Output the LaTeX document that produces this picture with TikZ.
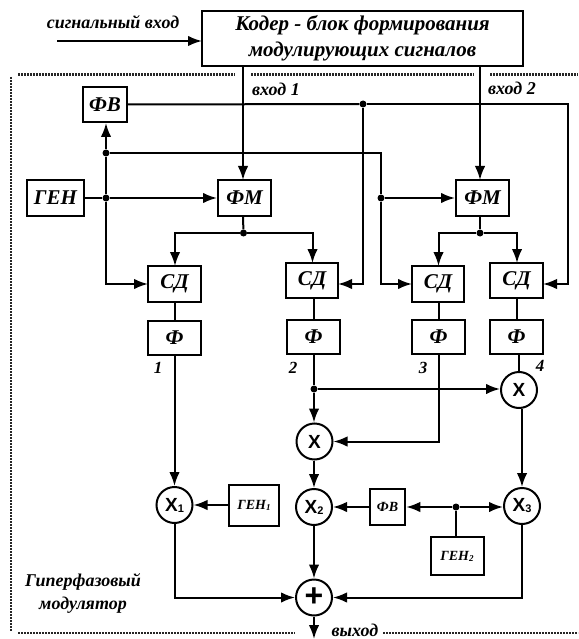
\documentclass[tikz,border=0pt]{standalone}
\usepackage{fontspec}
\setmainfont{Liberation Serif}
\newfontfamily\opfont{Liberation Sans}
\usetikzlibrary{arrows.meta,calc}
\tikzset{
 blk/.style={draw=black,line width=2pt,fill=white,inner sep=0pt,align=center,font=\bfseries\itshape\fontsize{21}{23}\selectfont},
 opc/.style={draw=black,line width=2pt,fill=white,circle,inner sep=0pt,minimum size=36pt,font=\opfont\bfseries\fontsize{19}{20}\selectfont},
 lbl/.style={inner sep=0pt,align=center,font=\bfseries\itshape\fontsize{18}{23}\selectfont},
 num/.style={inner sep=0pt,font=\bfseries\itshape\fontsize{17}{17}\selectfont},
 wire/.style={line width=2pt,draw=black},
 arr/.style={wire,-{Latex[length=14pt,width=10.5pt]}},
 dot/.style={circle,fill=black,inner sep=0pt,minimum size=7pt},
 bord/.style={line width=2.4pt,draw=black!85,dash pattern=on 1.6pt off 1.4pt},
}
\begin{document}
\begin{tikzpicture}[x=1pt,y=-1pt]
\useasboundingbox (0,0) rectangle (578,639);
% border
\coordinate (t0) at (18,74.5); \coordinate (t1) at (235,74.5);
\coordinate (t2) at (251,74.5); \coordinate (t3) at (474,74.5);
\coordinate (t4) at (490,74.5); \coordinate (t5) at (578,74.5);
\coordinate (l0) at (11,77); \coordinate (l1) at (11,631);
\coordinate (b0) at (18,633); \coordinate (b1) at (295,633);
\coordinate (b2) at (383,633); \coordinate (b3) at (578,633);
\draw[bord] (t0)--(t1); \draw[bord] (t2)--(t3); \draw[bord] (t4)--(t5);
\draw[bord] (l0)--(l1); \draw[bord] (b0)--(b1); \draw[bord] (b2)--(b3);
% blocks
\node[blk,minimum width=321pt,minimum height=55pt,font=\bfseries\itshape\fontsize{21}{25.5}\selectfont] (cod) at (362.5,38.5) {Кодер - блок формирования\\модулирующих сигналов};
\node[blk,minimum width=44pt,minimum height=35pt] (fv) at (105,104.5) {ФВ};
\node[blk,minimum width=57pt,minimum height=36pt] (gen) at (55.5,198) {ГЕН};
\node[blk,minimum width=53pt,minimum height=36pt] (fm1) at (244.5,198) {ФМ};
\node[blk,minimum width=53pt,minimum height=36pt] (fm2) at (482.5,198) {ФМ};
\node[blk,minimum width=53pt,minimum height=36pt] (sd1) at (174.5,284) {СД};
\node[blk,minimum width=52pt,minimum height=35pt] (sd2) at (312,280.5) {СД};
\node[blk,minimum width=52pt,minimum height=36pt] (sd3) at (438,284) {СД};
\node[blk,minimum width=53pt,minimum height=35pt] (sd4) at (516.5,280.5) {СД};
\node[blk,minimum width=53pt,minimum height=34pt] (f1) at (174.5,338) {Ф};
\node[blk,minimum width=53pt,minimum height=34pt] (f2) at (313.5,337) {Ф};
\node[blk,minimum width=53pt,minimum height=34pt] (f3) at (438.5,337) {Ф};
\node[blk,minimum width=53pt,minimum height=34pt] (f4) at (516.5,337) {Ф};
\node[opc] (xa) at (519,390) {Х};
\node[opc] (xb) at (314.5,441.5) {Х};
\node[opc] (x1) at (174.5,505) {Х\raisebox{-1pt}{\fontsize{11}{11}\selectfont 1}};
\node[opc] (x2) at (314,507) {Х\raisebox{-1pt}{\fontsize{11}{11}\selectfont 2}};
\node[opc] (x3) at (522,506) {Х\raisebox{-1pt}{\fontsize{11}{11}\selectfont 3}};
\node[opc,font=\opfont\bfseries\fontsize{32}{32}\selectfont] (sum) at (314,597.5) {+};
\node[blk,minimum width=50pt,minimum height=41pt,font=\bfseries\itshape\fontsize{14}{16}\selectfont] (g1) at (254,505) {ГЕН\raisebox{-1pt}{\fontsize{9}{9}\selectfont 1}};
\node[blk,minimum width=35.5pt,minimum height=36pt,font=\bfseries\itshape\fontsize{14}{16}\selectfont] (fv2) at (387.5,507) {ФВ};
\node[blk,minimum width=53pt,minimum height=38pt,font=\bfseries\itshape\fontsize{14}{16}\selectfont] (g2) at (457,556) {ГЕН\raisebox{-1pt}{\fontsize{9}{9}\selectfont 2}};
% free ends and ports
\coordinate (sig) at (57,41); \coordinate (cod1) at (243,66); \coordinate (cod2) at (480,66);
\coordinate (codin) at (202,41);
\coordinate (fm1t) at (243,180); \coordinate (fm2t) at (480,180);
\coordinate (p1) at (148,284); \coordinate (p2) at (338,284); \coordinate (p3) at (412,284); \coordinate (p4) at (543,284);
\coordinate (c4) at (568,104); \coordinate (c3) at (381,155);
\coordinate (out) at (314,639);
\coordinate (s1t) at (175,266); \coordinate (s2t) at (312.5,263); \coordinate (s3t) at (438.5,266); \coordinate (s4t) at (517,263);
% junctions
\node[dot] (ja) at (106,198) {};
\node[dot] (jb) at (106,153) {};
\node[dot] (jc) at (363,104) {};
\node[dot] (jd) at (381,198) {};
\node[dot] (je) at (243.5,233) {};
\node[dot] (jf) at (480,233) {};
\node[dot] (jg) at (314,389) {};
\node[dot] (jh) at (456,507) {};
% wires
\draw[arr] (sig) -- (codin);
\draw[arr] (cod1) -- (fm1t);
\draw[arr] (cod2) -- (fm2t);
\draw[wire] (gen.east) -- (ja);
\draw[arr] (ja) -- (fm1.west);
\draw[arr] (ja) -- (jb) -- (jb |- fv.south);
\draw[arr] (ja) |- (p1);
\draw[wire] (jb) -| (c3) -- (jd);
\draw[arr] (jd) -- (fm2.west);
\draw[arr] (jd) |- (p3);
\draw[wire] (fv.east) -- (jc);
\draw[arr] (jc) |- (p2);
\draw[arr] (jc) -- (c4) -- (p4 -| c4) -- (p4);
\draw[wire] (fm1t |- fm1.south) -- (je);
\draw[wire] (fm2t |- fm2.south) -- (jf);
\draw[arr] (je) -| (s1t);
\draw[arr] (je) -| (s2t);
\draw[arr] (jf) -| (s3t);
\draw[arr] (jf) -| (s4t);
\draw[wire] (sd1) -- (f1);
\draw[wire] (sd2.south -| f2) -- (f2.north);
\draw[wire] (sd3.south -| f3) -- (f3.north);
\draw[wire] (sd4) -- (f4);
\draw[arr] (f1.south) -- (x1.north);
\draw[wire] (f2.south -| jg) -- (jg);
\draw[arr] (jg) -- (xb.north -| jg);
\draw[arr] (jg) -- (xa.west |- jg);
\draw[arr] (f3.south) |- (xb.east);
\draw[wire] (f4.south -| xa) -- (xa.north);
\draw[arr] (xa.south -| x3) -- (x3.north);
\draw[arr] (xb.south -| x2) -- (x2.north);
\draw[arr] (g1.west) -- (x1.east);
\draw[arr] (fv2.west) -- (x2.east);
\draw[arr] (jh) -- (fv2.east);
\draw[arr] (jh) -- (x3.west |- jh);
\draw[wire] (g2.north -| jh) -- (jh);
\draw[arr] (x2.south) -- (sum.north);
\draw[arr] (x1.south) |- (sum.west);
\draw[arr] (x3.south) |- (sum.east);
\draw[arr] (sum.south) -- (out);
% labels
\node[lbl] (tsig) at (113,22) {сигнальный вход};
\node[lbl] (tin1) at (276,89) {вход 1};
\node[lbl] (tin2) at (512,88) {вход 2};
\node[num] (n1) at (158,368) {1};
\node[num] (n2) at (293,368) {2};
\node[num] (n3) at (423,368) {3};
\node[num] (n4) at (540,366) {4};
\node[lbl] (tmod) at (83,593.5) {Гиперфазовый\\модулятор};
\node[lbl] (tout) at (355,630) {выход};
\end{tikzpicture}
\end{document}
